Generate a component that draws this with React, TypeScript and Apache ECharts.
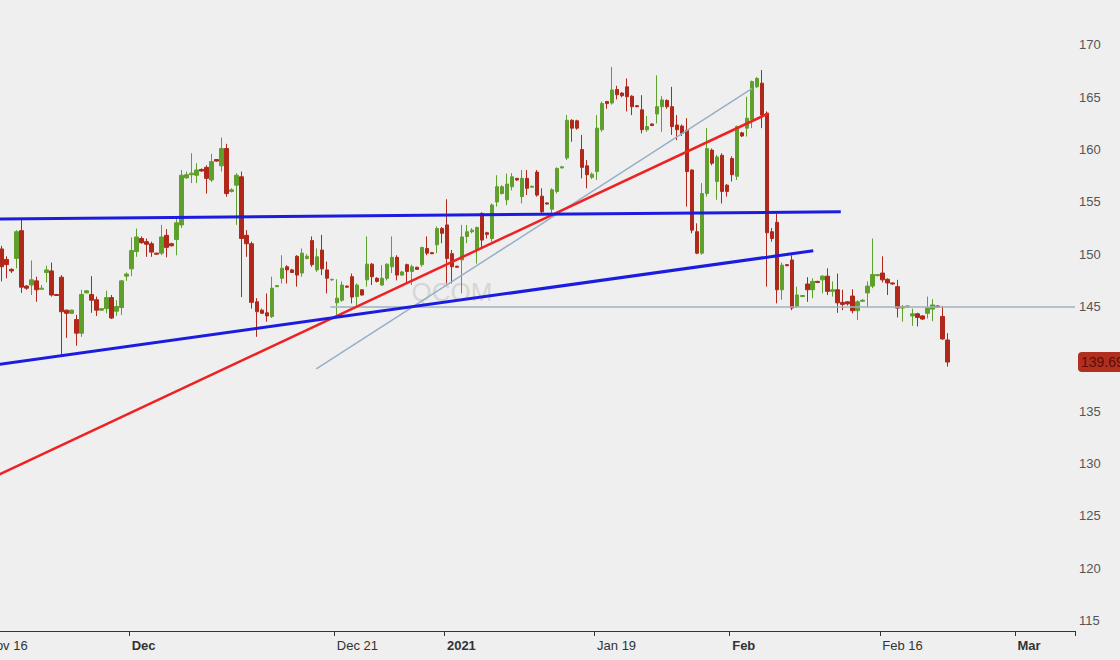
import React, { useEffect, useRef } from "react";
import * as echarts from "echarts";

// Trading sessions shown on the x axis (130-minute bars, 3 per regular day)
const sessions: [string, number][] = [
  ["Nov 16", 3], ["Nov 17", 3], ["Nov 18", 3], ["Nov 19", 3], ["Nov 20", 3], ["Nov 23", 3], ["Nov 24", 3], ["Nov 25", 3], ["Nov 27", 2], ["Nov 30", 3],
  ["Dec 1", 3], ["Dec 2", 3], ["Dec 3", 3], ["Dec 4", 3], ["Dec 7", 3], ["Dec 8", 3], ["Dec 9", 3], ["Dec 10", 3], ["Dec 11", 2], ["Dec 14", 3], ["Dec 15", 3], ["Dec 16", 3], ["Dec 17", 3], ["Dec 18", 3],
  ["Dec 21", 3], ["Dec 22", 3], ["Dec 23", 3], ["Dec 24", 2], ["Dec 28", 3], ["Dec 29", 3], ["Dec 30", 3], ["Dec 31", 2],
  ["Jan 4", 3], ["Jan 5", 3], ["Jan 6", 3], ["Jan 7", 3], ["Jan 8", 3], ["Jan 11", 3], ["Jan 12", 3], ["Jan 13", 3], ["Jan 14", 3], ["Jan 15", 3],
  ["Jan 19", 3], ["Jan 20", 3], ["Jan 21", 3], ["Jan 22", 3], ["Jan 25", 3], ["Jan 26", 3], ["Jan 27", 3], ["Jan 28", 3], ["Jan 29", 3],
  ["Feb 1", 3], ["Feb 2", 3], ["Feb 3", 3], ["Feb 4", 3], ["Feb 5", 3], ["Feb 8", 3], ["Feb 9", 3], ["Feb 10", 3], ["Feb 11", 3], ["Feb 12", 3],
  ["Feb 16", 3], ["Feb 17", 3], ["Feb 18", 3], ["Feb 19", 3], ["Feb 22", 3], ["Feb 23", 3], ["Feb 24", 3], ["Feb 25", 3], ["Feb 26", 3],
  ["Mar 1", 3], ["Mar 2", 3], ["Mar 3", 3], ["Mar 4", 3],
];

// Tick labels: session -> label text, bold
const tickLabels: [string, string, boolean][] = [
  ["Nov 16", "Nov 16", false],
  ["Dec 1", "Dec", true],
  ["Dec 21", "Dec 21", false],
  ["Jan 4", "2021", true],
  ["Jan 19", "Jan 19", false],
  ["Feb 1", "Feb", true],
  ["Feb 16", "Feb 16", false],
  ["Mar 1", "Mar", true],
];

// OHLC bars: [open, close, low, high]
const ohlc: number[][] = [
  [150.9, 151.3, 150.6, 151.6], [151.3, 150.7, 150.4, 151.5], [150.7, 150.5, 150.2, 151.0],
  [150.5, 148.8, 147.4, 150.8], [149.5, 149.0, 147.7, 149.8], [148.55, 148.4, 148.2, 148.65], [149.6, 152.15, 148.65, 152.3],
  [152.25, 146.85, 146.3, 153.3], [146.95, 146.75, 146.6, 147.05], [147.05, 147.55, 146.1, 149.4], [147.45, 146.6, 145.45, 147.85],
  [146.65, 146.75, 146.6, 147.05], [148.25, 148.5, 147.3, 148.9], [148.4, 146.1, 145.95, 149.2], [146.15, 146.05, 146.0, 146.2],
  [147.8, 144.5, 140.4, 148.0], [144.65, 144.35, 142.0, 144.7], [144.35, 144.65, 144.3, 144.7], [143.75, 142.45, 141.25, 144.2],
  [142.45, 146.15, 142.1, 146.6], [146.3, 146.5, 146.3, 146.55], [146.15, 145.6, 144.4, 147.9], [145.65, 144.65, 144.1, 145.95],
  [144.65, 144.8, 144.6, 144.85], [144.8, 145.85, 144.35, 146.5], [145.85, 143.9, 143.8, 146.1], [144.55, 145.0, 144.1, 145.6],
  [144.9, 147.45, 144.2, 147.5], [147.9, 148.1, 147.45, 148.25], [148.6, 150.35, 147.9, 151.6], [150.25, 151.65, 149.75, 152.45],
  [151.5, 151.1, 151.0, 151.7], [151.2, 150.95, 149.75, 151.5], [151.0, 150.2, 149.75, 151.2], [150.1, 150.0, 149.95, 150.15],
  [150.1, 151.65, 149.9, 152.8], [151.8, 150.65, 149.7, 152.4], [151.0, 150.8, 150.75, 151.1], [151.4, 153.0, 149.9, 153.45],
  [152.8, 157.55, 152.5, 158.05], [157.3, 157.6, 157.2, 157.9], [157.6, 157.75, 156.8, 159.65], [157.55, 158.05, 156.8, 158.7],
  [158.1, 157.95, 157.9, 158.2], [158.3, 157.25, 155.8, 158.5], [157.1, 158.85, 156.9, 159.6], [159.05, 158.9, 158.85, 159.1],
  [158.45, 160.1, 157.9, 161.15], [160.1, 155.8, 155.5, 160.55], [156.0, 156.15, 155.9, 156.3], [156.6, 157.55, 152.8, 157.75],
  [157.4, 151.5, 145.9, 157.9], [151.8, 151.0, 149.75, 152.3], [151.0, 145.4, 144.8, 151.2], [145.45, 144.5, 142.1, 145.8],
  [144.65, 144.35, 144.3, 144.8], [144.4, 144.1, 143.55, 146.25], [144.05, 146.75, 143.9, 147.85], [146.9, 147.0, 146.85, 147.05],
  [147.7, 148.65, 147.2, 149.9], [148.8, 148.5, 147.2, 148.95], [148.5, 148.25, 148.2, 148.6], [149.8, 148.0, 146.9, 149.9],
  [148.2, 150.1, 147.85, 150.55], [149.6, 149.8, 149.5, 150.0], [151.3, 149.0, 148.8, 151.7], [148.5, 149.75, 148.3, 150.55],
  [150.4, 148.6, 148.0, 151.85], [148.5, 147.7, 146.25, 149.3], [147.55, 147.6, 147.45, 147.65], [145.35, 145.8, 144.2, 147.6],
  [145.6, 147.05, 145.45, 147.4], [146.95, 146.85, 146.8, 147.0], [147.85, 145.9, 145.3, 148.15], [145.95, 147.05, 145.0, 147.2],
  [146.6, 146.1, 146.05, 146.65], [147.55, 149.05, 146.9, 151.7], [149.05, 147.85, 147.05, 149.15], [147.7, 147.4, 147.3, 147.8],
  [147.05, 147.7, 147.0, 148.95], [147.7, 149.05, 147.5, 149.1], [148.8, 149.7, 148.2, 151.7], [149.7, 148.0, 147.5, 149.9],
  [148.0, 148.3, 147.95, 148.4], [149.0, 148.35, 147.2, 149.1], [148.35, 148.8, 147.05, 149.0], [148.75, 148.55, 148.5, 148.8],
  [149.0, 150.65, 148.8, 150.7], [150.55, 150.1, 149.9, 151.7], [150.15, 150.05, 150.0, 150.2], [150.9, 152.45, 150.1, 152.65],
  [152.45, 152.0, 151.05, 152.6], [152.8, 149.6, 147.2, 155.25], [150.05, 148.8, 147.2, 150.4], [148.85, 148.75, 148.7, 148.9],
  [149.45, 151.65, 146.25, 152.8], [151.7, 152.15, 151.05, 152.8], [152.15, 152.3, 152.0, 152.5], [150.4, 152.55, 149.1, 152.65],
  [153.9, 151.35, 150.56, 154.0], [152.05, 151.9, 151.5, 152.15], [151.5, 154.7, 151.2, 154.85], [155.0, 156.45, 154.55, 157.55],
  [155.8, 156.45, 155.7, 156.6], [155.2, 156.7, 154.7, 157.7], [156.45, 157.4, 156.1, 157.75], [157.25, 157.1, 157.0, 157.3],
  [155.5, 157.25, 154.85, 158.05], [157.25, 156.3, 155.66, 158.05], [156.4, 156.5, 156.35, 156.55], [157.85, 155.65, 155.5, 158.05],
  [155.55, 154.05, 153.9, 156.3], [154.9, 154.8, 154.75, 154.95], [154.3, 156.15, 153.75, 156.3], [156.0, 158.2, 155.8, 158.3],
  [158.25, 158.35, 158.2, 158.45], [159.2, 162.8, 159.0, 163.3], [162.8, 162.05, 160.75, 162.9], [162.75, 162.05, 161.9, 162.85],
  [160.0, 158.3, 157.25, 161.4], [158.45, 157.6, 156.3, 159.0], [157.35, 157.65, 157.2, 157.8], [157.9, 162.05, 157.1, 163.3],
  [161.9, 164.4, 161.7, 164.6], [164.6, 164.4, 163.9, 164.65], [164.45, 165.7, 164.3, 167.9], [165.75, 165.25, 164.8, 166.1],
  [165.4, 165.15, 165.0, 165.5], [166.0, 165.05, 163.65, 166.8], [165.1, 164.1, 163.3, 165.2], [164.2, 164.1, 164.05, 164.25],
  [163.8, 161.9, 161.55, 165.2], [161.9, 162.2, 161.7, 163.2], [162.45, 162.3, 162.25, 162.5], [163.4, 164.1, 162.5, 167.1],
  [164.1, 164.75, 161.7, 165.1], [164.7, 164.1, 163.9, 164.8], [164.1, 162.2, 161.4, 166.0], [162.35, 161.9, 160.9, 163.3],
  [162.25, 161.55, 161.3, 162.4], [161.85, 157.9, 154.55, 163.0], [158.05, 152.3, 152.0, 158.1], [152.15, 150.1, 150.0, 152.95],
  [150.1, 155.8, 149.95, 156.8], [155.8, 160.1, 155.5, 162.05], [159.95, 158.7, 158.5, 160.1], [156.95, 159.3, 155.2, 159.5],
  [159.45, 156.0, 154.85, 159.65], [156.6, 156.0, 155.5, 156.7], [159.15, 157.6, 156.95, 159.35], [157.45, 162.2, 157.1, 162.3],
  [161.6, 161.3, 161.2, 161.7], [162.05, 163.0, 161.25, 165.05], [162.85, 166.5, 162.05, 166.6], [166.0, 166.8, 165.9, 166.95],
  [166.35, 163.3, 162.05, 167.6], [163.45, 152.05, 146.9, 163.65], [152.15, 151.5, 151.2, 152.5], [153.05, 146.6, 145.3, 153.9],
  [146.6, 148.95, 145.65, 149.2], [149.0, 148.9, 148.85, 149.05], [149.45, 144.85, 144.65, 149.9], [145.0, 146.1, 144.85, 146.9],
  [145.95, 146.05, 145.9, 146.1], [147.15, 146.6, 145.45, 147.8], [146.6, 147.4, 145.8, 147.7], [147.4, 147.3, 147.25, 147.45],
  [147.55, 147.9, 146.26, 148.0], [147.9, 146.45, 146.1, 148.65], [146.45, 146.6, 145.95, 147.4], [146.6, 145.35, 144.4, 148.15],
  [145.4, 145.2, 144.65, 146.6], [145.45, 145.25, 145.1, 145.5], [146.0, 144.6, 144.35, 146.65], [144.6, 145.45, 143.7, 145.6],
  [145.5, 145.6, 145.45, 145.7], [146.3, 146.95, 144.9, 147.4], [146.95, 148.05, 146.75, 151.5], [147.95, 148.05, 147.9, 148.1],
  [148.2, 147.55, 147.3, 149.8], [147.6, 147.25, 146.1, 147.7], [147.25, 147.15, 147.1, 147.3], [146.9, 144.85, 143.95, 147.55],
  [144.85, 145.0, 143.55, 145.15], [144.95, 145.05, 144.9, 145.1], [144.1, 144.3, 143.15, 144.8], [144.3, 143.95, 143.1, 144.4],
  [144.1, 143.8, 143.7, 144.15], [144.35, 144.85, 143.85, 145.95], [144.75, 145.15, 143.6, 145.7], [145.05, 144.95, 144.9, 145.1],
  [144.05, 141.9, 141.8, 145.05], [141.8, 139.69, 139.25, 142.45],
];

const lastPrice = 139.69;
const symbolName = "QCOM";

// Drawn trend lines: [barIndex, price] end points
const upperBlueLine = [[-0.5, 153.35], [170.7, 154.06]];
const lowerBlueLine = [[-0.5, 139.26], [165.2, 150.33]];
const redLine = [[-0.5, 128.27], [156.3, 163.47]];
const thinLine = [[65.9, 139.03], [153.0, 165.86]];
const supportLine = [[68.7, 144.95], [217.5, 144.95]];

const categories: string[] = sessions.flatMap(([d, n]) =>
  Array.from({ length: n }, (_, j) => `${d} #${j + 1}`)
);
const labelMap: Record<string, [string, boolean]> = {};
tickLabels.forEach(([d, t, b]) => (labelMap[`${d} #1`] = [t, b]));

const GREEN = "#5f9f2c";
const RED = "#b0281a";
const CHART_W = 1160;
const GRID_RIGHT = 45;

export default function App() {
  const ref = useRef<HTMLDivElement>(null);
  useEffect(() => {
    if (!ref.current) return;
    const chart = echarts.init(ref.current, null, { renderer: "svg" });
    const trend = (data: number[][], color: string, width: number) => ({
      type: "line",
      xAxisIndex: 1,
      yAxisIndex: 0,
      data,
      symbol: "none",
      silent: true,
      z: 5,
      lineStyle: { color, width },
    });
    chart.setOption({
      animation: false,
      backgroundColor: "#efefef",
      grid: { left: 24, right: GRID_RIGHT, top: 0, bottom: 29 },
      xAxis: [
        {
          type: "category",
          data: categories,
          boundaryGap: true,
          axisLine: { show: true, lineStyle: { color: "#333", width: 1 } },
          axisTick: {
            show: true,
            length: 5,
            lineStyle: { color: "#333" },
            interval: (i: number, v: string) => !!labelMap[v],
          },
          axisLabel: {
            interval: (i: number, v: string) => !!labelMap[v],
            formatter: (v: string) => {
              const l = labelMap[v];
              if (!l) return "";
              return l[1] ? `{b|${l[0]}}` : `{n|${l[0]}}`;
            },
            align: "left",
            margin: 8,
            rich: {
              b: { fontWeight: "bold", fontSize: 13, color: "#333", fontFamily: "Liberation Sans" },
              n: { fontSize: 13, color: "#333", fontFamily: "Liberation Sans" },
            },
          },
          splitLine: { show: false },
        },
        {
          type: "value",
          min: -0.5,
          max: categories.length - 0.5,
          show: false,
        },
      ],
      yAxis: {
        type: "value",
        position: "right",
        min: 113.98,
        max: 174.3,
        splitNumber: 12,
        axisLine: { show: true, lineStyle: { color: "#333", width: 1 } },
        axisTick: { show: false },
        splitLine: { show: false },
        axisLabel: {
          showMinLabel: false,
          showMaxLabel: false,
          color: "#555",
          fontSize: 13,
          fontFamily: "Liberation Sans",
          margin: 4,
          formatter: (v: number) =>
            Math.abs(v / 5 - Math.round(v / 5)) < 1e-6 && Math.abs(v - lastPrice) > 2.5 ? String(v) : "",
        },
      },
      series: [
        {
          type: "candlestick",
          data: ohlc,
          barWidth: 4,
          z: 3,
          itemStyle: {
            color: GREEN,
            color0: RED,
            borderColor: GREEN,
            borderColor0: RED,
            borderWidth: 1,
          },
        },
        trend(supportLine, "#9fb2c2", 1.5),
        trend(thinLine, "#97afc6", 1.5),
        trend(redLine, "#ee2222", 2.5),
        trend(lowerBlueLine, "#1c1ce0", 3),
        trend(upperBlueLine, "#1c1ce0", 3),
      ],
    });
    // last price tag on the price axis, placed through the axis scale
    const py = chart.convertToPixel({ yAxisIndex: 0 }, lastPrice) as number;
    const ax = CHART_W - GRID_RIGHT;
    chart.setOption({
      graphic: [
        {
          type: "text",
          z: 0,
          silent: true,
          style: {
            text: symbolName,
            x: 492,
            y: 292,
            textAlign: "center",
            textVerticalAlign: "middle",
            fontSize: 26,
            fontFamily: "Liberation Sans",
            fill: "#d6d6d6",
          },
        },
        {
          type: "rect",
          z: 10,
          silent: true,
          shape: { x: ax + 3, y: py - 10, width: 60, height: 20, r: 4 },
          style: { fill: "#b02f1f" },
        },
        {
          type: "text",
          z: 11,
          silent: true,
          style: {
            text: lastPrice.toFixed(2),
            x: ax + 6,
            y: py,
            textVerticalAlign: "middle",
            fontSize: 14,
            fontFamily: "Liberation Sans",
            fill: "#5e0c05",
          },
        },
      ],
    });
    return () => chart.dispose();
  }, []);
  return (
    <div style={{ position: "fixed", left: 0, top: 0, width: 1120, height: 660, overflow: "hidden", background: "#efefef" }}>
      <div ref={ref} style={{ position: "absolute", left: -40, top: 0, width: CHART_W, height: 660 }} />
    </div>
  );
}
